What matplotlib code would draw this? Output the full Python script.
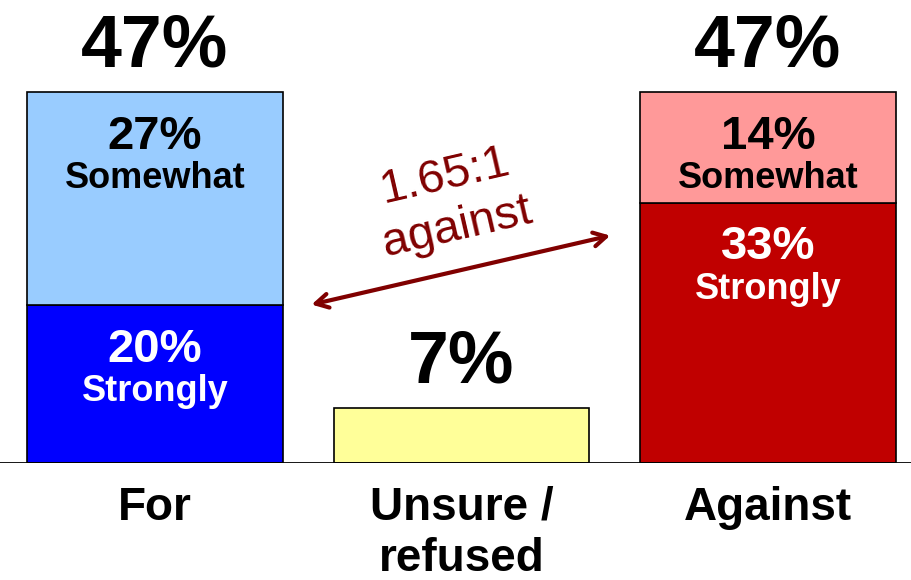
import matplotlib
matplotlib.use("Agg")
import matplotlib.pyplot as plt

plt.rcParams['font.family'] = ['Liberation Sans', 'DejaVu Sans']

# === Data ===
categories = ["For", "Unsure /\nrefused", "Against"]
totals = [47, 7, 47]
for_parts = [20, 27]          # strongly, somewhat
against_parts = [33, 14]      # strongly, somewhat
part_names = ["Strongly", "Somewhat"]
ratio_text = "1.65:1\nagainst"

# colours
for_colors = ["#0000FF", "#99CCFF"]
against_colors = ["#C00000", "#FF9999"]
unsure_color = "#FFFF99"
for_text = ["white", "black"]
against_text = ["white", "black"]
arrow_color = "#800000"

fig = plt.figure(figsize=(9.12, 5.8), dpi=100)
ax = fig.add_axes([0, 117 / 580, 1, 463 / 580])
ax.set_xlim(-155 / 306.5, (912 - 155) / 306.5)
ax.set_ylim(0, 463 / 7.89)
ax.axis("off")

width = 0.835


def stacked(x, parts, colors, tcolors):
    bottom = 0
    for val, col, tc, name in zip(parts, colors, tcolors, part_names):
        ax.bar(x, val, width=width, bottom=bottom, color=col,
               edgecolor="black", linewidth=1.2, zorder=2)
        top = bottom + val
        ax.text(x, top - 7.2, f"{val}%", ha="center", va="baseline",
                fontsize=34, fontweight="bold", color=tc)
        ax.text(x, top - 12.2, name, ha="center", va="baseline",
                fontsize=26, fontweight="bold", color=tc)
        bottom = top


stacked(0, for_parts, for_colors, for_text)
stacked(2, against_parts, against_colors, against_text)
ax.bar(1, totals[1], width=width, color=unsure_color,
       edgecolor="black", linewidth=1.2, zorder=2)

for i, t in enumerate(totals):
    ax.text(i, t + 3.2, f"{t}%", ha="center", va="baseline",
            fontsize=53, fontweight="bold", color="black")

for i, c in enumerate(categories):
    ax.text(i, -2.9, c, ha="center", va="top", fontsize=33,
            fontweight="bold", linespacing=1.22, clip_on=False)

ax.axhline(0, color="black", linewidth=2, zorder=3)

# ratio arrow
ax.annotate("", xy=(1.494, 28.9), xytext=(0.502, 20.0),
            arrowprops=dict(arrowstyle="<->,head_length=0.9,head_width=0.5",
                            color=arrow_color, lw=3))
ax.text(0.965, 33.1, ratio_text, ha="center", va="center", rotation=13,
        rotation_mode="anchor", fontsize=34, color=arrow_color,
        linespacing=1.25)

fig.savefig("out.png", dpi=100)
